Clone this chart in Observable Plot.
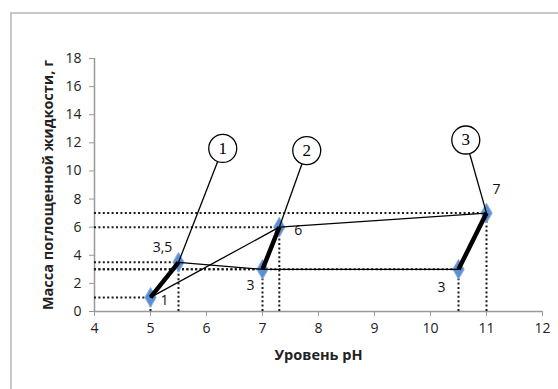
<!DOCTYPE html>
<html>
<head>
<meta charset="utf-8">
<script src="https://cdn.jsdelivr.net/npm/d3@7"></script>
<script src="https://cdn.jsdelivr.net/npm/@observablehq/plot@0.6"></script>
<style>
  html, body { margin: 0; padding: 0; background: #fff; }
  #wrap { position: relative; width: 558px; height: 389px; overflow: hidden; }
  #frame { position: absolute; left: 10px; top: 12px; width: 600px; height: 400px;
           border-top: 2px solid #c8c8c8; border-left: 2px solid #c8c8c8; }
  #chart { position: absolute; left: 0; top: 0; }
  #chart g[aria-label="x-axis label"] text, #chart g[aria-label="y-axis label"] text { font-weight: bold; font-size: 14.5px; }
</style>
</head>
<body>
<div id="wrap"><div id="frame"></div><div id="chart"></div></div>
<script>
// Data
const pointX = [5, 5.5, 7, 7.3, 10.5, 11];
const pointY = [1, 3.5, 3, 6, 3, 7];
const pointLabels = ["1", "3,5", "3", "6", "3", "7"];
const labelDx = [14, -16, -12, 19, -17, 10];
const labelDy = [3, -15, 16, 3, 18, -24];
// thick segments (pairs of point indices) and thin polylines
const thickSegments = [[0, 1], [2, 3], [4, 5]];
const thinPaths = [[1, 2, 4], [0, 3, 5]];
// callouts
const calloutNames = ["1", "2", "3"];
const calloutX = [6.29, 7.79, 10.63];
const calloutY = [11.6, 11.45, 12.2];
const calloutTarget = [1, 3, 5];
const xTicks = [4, 5, 6, 7, 8, 9, 10, 11, 12];
const yTicks = [0, 2, 4, 6, 8, 10, 12, 14, 16, 18];
const xDomain = [4, 12];
const yDomain = [0, 18];

const pts = pointX.map((x, i) => ({x, y: pointY[i], label: pointLabels[i]}));
const thick = thickSegments.flatMap((s, k) => s.map(i => ({...pts[i], g: k})));
const thin = thinPaths.flatMap((s, k) => s.map(i => ({...pts[i], g: k})));
const callouts = calloutNames.map((n, i) => ({name: n, cx: calloutX[i], cy: calloutY[i], tx: pointX[calloutTarget[i]], ty: pointY[calloutTarget[i]]}));

const font = "'Open Sans', sans-serif";
const dotted = {stroke: "#1a1a1a", strokeWidth: 2, strokeDasharray: "2,2.4"};

const chart = Plot.plot({
  width: 558, height: 389,
  marginLeft: 94, marginRight: 16, marginTop: 58, marginBottom: 78,
  style: {fontFamily: font, fontSize: "14px", color: "#222", background: "transparent"},
  x: {domain: xDomain, ticks: xTicks},
  y: {domain: yDomain, ticks: yTicks},
  marks: [
    Plot.axisX({ticks: xTicks, tickSize: 5, tickPadding: 7, stroke: "#999", fontSize: 14,
      label: "Уровень pH", labelAnchor: "center", labelArrow: "none", labelOffset: 48}),
    Plot.axisY({ticks: yTicks, tickSize: 5, tickPadding: 8, stroke: "#999", fontSize: 14,
      label: "Масса поглощенной жидкости, г", labelAnchor: "center", labelArrow: "none", labelOffset: 52}),
    Plot.ruleY([yDomain[0]], {stroke: "#999", strokeWidth: 1.5}),
    Plot.ruleX([xDomain[0]], {stroke: "#999", strokeWidth: 1.5}),
    Plot.ruleY(pts, {y: "y", x1: () => xDomain[0], x2: "x", ...dotted}),
    Plot.ruleX(pts, {x: "x", y1: () => yDomain[0], y2: "y", ...dotted}),
    Plot.dot(pts, {x: "x", y: "y", symbol: "diamond", r: 6, fill: "#5b8fd6", stroke: "#8db2e6", strokeWidth: 1}),
    Plot.line(thin, {x: "x", y: "y", z: "g", stroke: "#000", strokeWidth: 1.3}),
    Plot.line(thick, {x: "x", y: "y", z: "g", stroke: "#000", strokeWidth: 4.5, strokeLinecap: "butt"}),
    Plot.link(callouts, {x1: "cx", y1: "cy", x2: "tx", y2: "ty", stroke: "#000", strokeWidth: 1.3}),
    Plot.dot(callouts, {x: "cx", y: "cy", r: 14, fill: "#fff", stroke: "#000", strokeWidth: 1.3}),
    Plot.text(callouts, {x: "cx", y: "cy", text: "name", fontFamily: "'Liberation Serif', serif", fontSize: 17, fill: "#000"}),
    ...pts.map((p, i) => Plot.text([p], {x: "x", y: "y", text: "label", dx: labelDx[i], dy: labelDy[i], fontSize: 14, fill: "#111"}))
  ]
});

document.getElementById("chart").appendChild(chart);
</script>
</body>
</html>
